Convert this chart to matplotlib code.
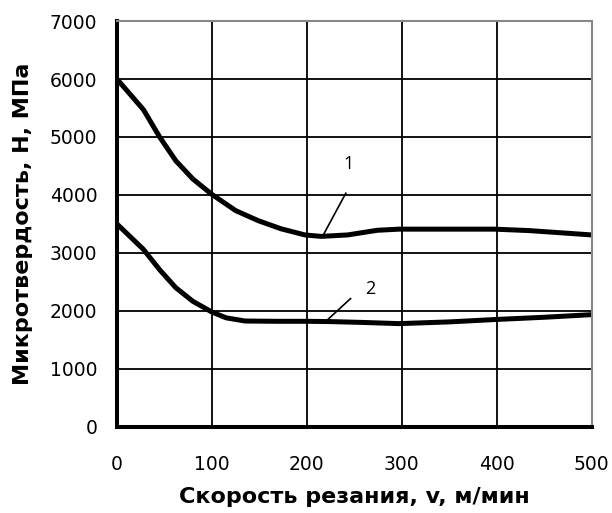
import matplotlib
matplotlib.use("Agg")
import matplotlib.pyplot as plt

# cutting speed, m/min -> microhardness, MPa
speed_1 = [0, 28, 45, 62, 80, 100, 125, 149, 173, 198, 215, 243, 274, 297, 350, 397, 434, 500]
hard_1 = [6000, 5470, 5000, 4590, 4275, 4010, 3730, 3555, 3415, 3310, 3285, 3310, 3390, 3410, 3410, 3410, 3385, 3310]

speed_2 = [0, 28, 45, 62, 80, 100, 115, 135, 170, 200, 225, 260, 297, 350, 397, 450, 500]
hard_2 = [3500, 3060, 2710, 2400, 2165, 1980, 1880, 1825, 1820, 1820, 1815, 1800, 1780, 1810, 1850, 1890, 1935]

xticks = [0, 100, 200, 300, 400, 500]
yticks = [0, 1000, 2000, 3000, 4000, 5000, 6000, 7000]

plt.rcParams["font.family"] = ["DejaVu Sans"]

fig = plt.figure(figsize=(6.12, 5.13), dpi=100)
ax = fig.add_axes([0.191, 0.168, 0.776, 0.791])

ax.plot(speed_1, hard_1, color="black", lw=3.6, solid_capstyle="butt", solid_joinstyle="round")
ax.plot(speed_2, hard_2, color="black", lw=3.6, solid_capstyle="butt", solid_joinstyle="round")

ax.set_xlim(0, 500)
ax.set_ylim(0, 7000)
ax.set_xticks(xticks)
ax.set_yticks(yticks)
ax.grid(True, color="black", lw=1.3)
ax.set_axisbelow(True)
ax.tick_params(length=0, labelsize=13.5)
ax.tick_params(axis="x", pad=20)
ax.tick_params(axis="y", pad=14)

for side in ("left", "bottom"):
    ax.spines[side].set_linewidth(2.9)
    ax.spines[side].set_color("black")
for side in ("top", "right"):
    ax.spines[side].set_linewidth(1.5)
    ax.spines[side].set_color("#888888")

ax.set_xlabel("Скорость резания, v, м/мин", fontsize=16, fontweight="bold", labelpad=10)
ax.set_ylabel("Микротвердость, Н, МПа", fontsize=16, fontweight="bold", labelpad=12)

# curve numbers with leader lines
ax.plot([241, 217], [4030, 3300], color="black", lw=1.2)
ax.text(244, 4530, "1", fontsize=13, ha="center", va="center", family=["Open Sans", "DejaVu Sans"])
ax.plot([246, 222], [2212, 1850], color="black", lw=1.2)
ax.text(267, 2370, "2", fontsize=13, ha="center", va="center", family=["Open Sans", "DejaVu Sans"])

fig.savefig("out.png", dpi=100)
